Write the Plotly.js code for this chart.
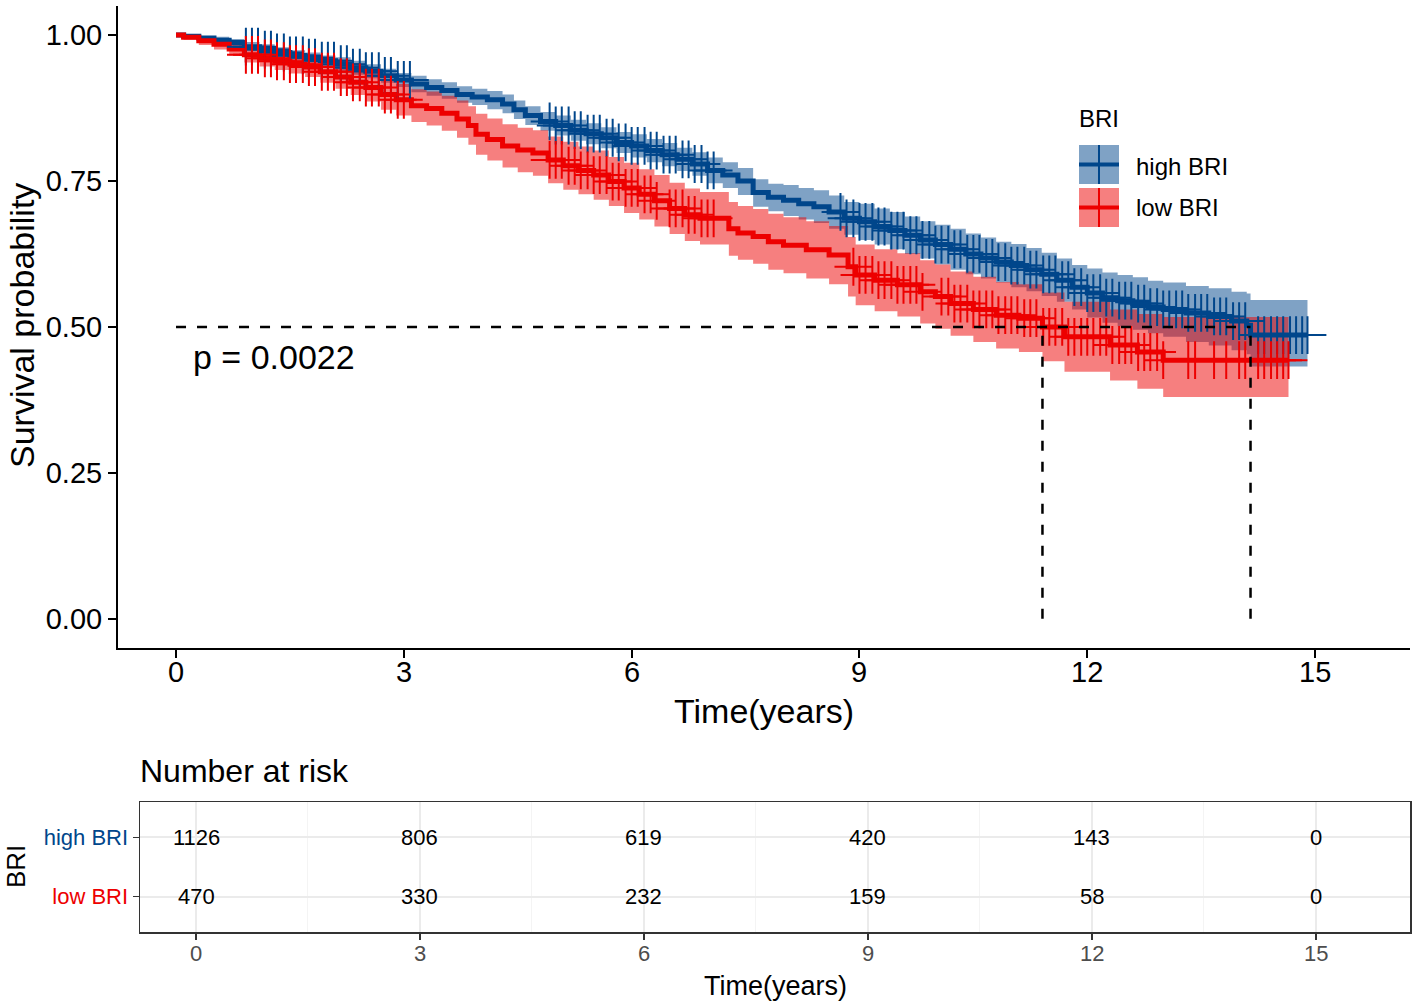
<!DOCTYPE html>
<html>
<head>
<meta charset="utf-8">
<script src="https://cdn.plot.ly/plotly-3.0.1.min.js"></script>
<style>html,body{margin:0;padding:0;background:#fff;}#chart{width:1418px;height:1007px;}</style>
</head>
<body>
<div id="chart"></div>
<script>
// ---------------- data ----------------
const groups = ['high BRI', 'low BRI'];
const groupColors = ['#00468B', '#ED0000'];
const bandColors = ['rgba(0,70,139,0.5)', 'rgba(237,0,0,0.5)'];

// high BRI Kaplan-Meier steps
const blueT = [0,0.1,0.3,0.5,0.7,0.9,1.1,1.3,1.5,1.7,1.9,2.1,2.3,2.5,2.7,2.9,3.1,3.3,3.5,3.7,3.9,4.1,4.3,4.45,4.6,4.8,5.0,5.2,5.4,5.6,5.8,6.0,6.2,6.4,6.6,6.8,7.0,7.2,7.4,7.6,7.8,8.0,8.2,8.4,8.6,8.8,9.0,9.2,9.4,9.6,9.8,10.0,10.2,10.4,10.6,10.8,11.0,11.2,11.4,11.6,11.8,12.0,12.2,12.4,12.6,12.8,13.0,13.3,13.6,13.9,14.1,14.15];
const blueS = [1,0.998,0.995,0.991,0.987,0.980,0.975,0.970,0.965,0.961,0.956,0.950,0.944,0.938,0.930,0.923,0.916,0.910,0.905,0.898,0.894,0.889,0.882,0.872,0.862,0.852,0.845,0.837,0.831,0.824,0.816,0.810,0.802,0.795,0.787,0.779,0.768,0.760,0.750,0.730,0.722,0.717,0.711,0.706,0.697,0.686,0.680,0.672,0.665,0.657,0.649,0.641,0.633,0.625,0.618,0.611,0.605,0.598,0.590,0.580,0.568,0.558,0.550,0.545,0.540,0.534,0.530,0.524,0.518,0.510,0.503,0.486];
const blueL = [1,0.996,0.992,0.985,0.981,0.972,0.966,0.961,0.956,0.952,0.947,0.938,0.932,0.926,0.918,0.911,0.902,0.896,0.891,0.884,0.880,0.873,0.866,0.856,0.846,0.836,0.828,0.819,0.813,0.806,0.798,0.790,0.782,0.775,0.767,0.759,0.746,0.738,0.726,0.706,0.698,0.690,0.684,0.678,0.668,0.658,0.649,0.641,0.633,0.625,0.617,0.607,0.598,0.590,0.583,0.576,0.568,0.561,0.553,0.543,0.530,0.516,0.507,0.501,0.495,0.489,0.483,0.474,0.468,0.460,0.453,0.432];
const blueU = [1,1,0.998,0.997,0.993,0.988,0.984,0.979,0.974,0.970,0.965,0.962,0.956,0.950,0.942,0.935,0.930,0.924,0.919,0.912,0.908,0.904,0.898,0.888,0.878,0.868,0.862,0.855,0.849,0.842,0.834,0.830,0.822,0.815,0.807,0.799,0.790,0.782,0.772,0.753,0.745,0.743,0.738,0.734,0.725,0.714,0.711,0.703,0.697,0.689,0.681,0.675,0.668,0.660,0.653,0.646,0.642,0.635,0.627,0.617,0.606,0.600,0.593,0.589,0.585,0.579,0.576,0.570,0.566,0.560,0.557,0.546];
const blueEnd = 14.9;
const blueCensor = [0.92,1.00,1.08,1.17,1.25,1.33,1.42,1.50,1.58,1.67,1.75,1.83,1.92,2.00,2.08,2.17,2.25,2.33,2.42,2.50,2.58,2.67,2.75,2.83,2.92,3.00,3.08,
  4.92,5.00,5.08,5.17,5.25,5.33,5.42,5.50,5.58,5.67,5.75,5.83,5.92,6.00,6.08,6.17,6.25,6.33,6.42,6.50,6.58,6.67,6.75,6.83,6.92,7.00,7.08,
  8.75,8.83,8.92,9.00,9.08,9.17,9.25,9.33,9.42,9.50,9.58,9.67,9.75,9.83,9.92,10.00,10.08,10.17,10.25,10.33,10.42,10.50,10.58,10.67,10.75,10.83,10.92,
  11.00,11.08,11.17,11.25,11.33,11.42,11.50,11.58,11.67,11.75,11.83,11.92,12.00,12.08,12.17,12.25,12.33,12.42,12.50,12.58,12.67,12.75,12.83,12.92,
  13.00,13.08,13.17,13.25,13.33,13.42,13.50,13.58,13.67,13.75,13.83,13.92,14.00,14.08,14.25,14.33,14.42,14.50,14.58,14.67,14.75,14.83,14.90];

// low BRI Kaplan-Meier steps
const redT = [0,0.1,0.3,0.5,0.7,0.9,1.1,1.3,1.5,1.7,1.9,2.1,2.3,2.5,2.7,2.9,3.1,3.3,3.5,3.7,3.85,3.95,4.1,4.3,4.5,4.7,4.9,5.1,5.3,5.5,5.7,5.9,6.1,6.3,6.5,6.7,6.9,7.28,7.4,7.6,7.8,8.0,8.3,8.6,8.85,8.95,9.2,9.5,9.8,10.0,10.2,10.5,10.8,11.1,11.41,11.7,12.3,12.66,13.0];
const redS = [1,0.996,0.990,0.984,0.976,0.966,0.960,0.955,0.950,0.945,0.937,0.928,0.919,0.910,0.898,0.889,0.879,0.874,0.866,0.856,0.845,0.830,0.821,0.810,0.803,0.798,0.786,0.776,0.768,0.760,0.749,0.738,0.727,0.716,0.703,0.692,0.686,0.668,0.661,0.655,0.646,0.640,0.632,0.623,0.603,0.589,0.580,0.572,0.560,0.552,0.540,0.530,0.520,0.515,0.500,0.483,0.469,0.457,0.443];
const redL = [1,0.992,0.983,0.975,0.965,0.953,0.946,0.940,0.934,0.928,0.918,0.908,0.897,0.886,0.872,0.862,0.851,0.845,0.836,0.824,0.812,0.795,0.785,0.773,0.765,0.759,0.746,0.735,0.727,0.718,0.707,0.695,0.684,0.672,0.659,0.647,0.641,0.622,0.615,0.608,0.598,0.592,0.583,0.573,0.552,0.537,0.527,0.518,0.506,0.497,0.485,0.474,0.463,0.457,0.441,0.423,0.408,0.394,0.380];
const redU = [1,1,0.997,0.993,0.987,0.979,0.974,0.970,0.966,0.962,0.956,0.948,0.941,0.934,0.924,0.916,0.907,0.903,0.896,0.888,0.878,0.865,0.857,0.847,0.841,0.837,0.826,0.817,0.809,0.802,0.791,0.781,0.770,0.760,0.747,0.737,0.731,0.714,0.707,0.702,0.694,0.688,0.681,0.673,0.654,0.641,0.633,0.626,0.614,0.607,0.595,0.586,0.577,0.573,0.559,0.543,0.530,0.522,0.517];
const redEnd = 14.65;
const redCensor = [0.92,1.00,1.08,1.17,1.25,1.33,1.42,1.50,1.58,1.67,1.75,1.83,1.92,2.00,2.08,2.17,2.25,2.33,2.42,2.50,2.58,2.67,2.75,2.83,2.92,3.00,
  4.92,5.00,5.08,5.17,5.25,5.33,5.42,5.50,5.58,5.67,5.75,5.83,5.92,6.00,6.08,6.17,6.25,6.33,6.50,6.58,6.67,6.75,6.83,6.92,7.00,7.08,
  8.92,9.00,9.08,9.17,9.25,9.33,9.42,9.50,9.58,9.67,9.75,9.83,10.08,10.17,10.25,10.33,10.42,10.50,10.58,10.67,10.75,10.83,10.92,
  11.00,11.08,11.17,11.25,11.33,11.42,11.50,11.58,11.67,11.75,11.83,11.92,12.00,12.08,12.17,12.25,12.33,12.42,12.50,12.58,12.67,12.75,12.83,12.92,
  13.00,13.33,13.42,13.67,13.83,14.00,14.08,14.25,14.33,14.42,14.50,14.58,14.65];

const medianTimes = [14.15, 11.41];
const medianLevel = 0.5;
const pText = 'p = 0.0022';

// number at risk table
const riskTimes = [0, 3, 6, 9, 12, 15];
const riskHigh = [1126, 806, 619, 420, 143, 0];
const riskLow = [470, 330, 232, 159, 58, 0];

const yTicks = [0, 0.25, 0.5, 0.75, 1];
const xTicks = [0, 3, 6, 9, 12, 15];

// ---------------- helpers ----------------
const FONT = 'Liberation Sans, Arial, Helvetica, sans-serif';
const W = 1418, H = 1007;
const px = v => v / W;
const py = v => 1 - v / H;

function stepAt(T, S, t) {
  let v = S[0];
  for (let i = 0; i < T.length; i++) { if (T[i] <= t) v = S[i]; else break; }
  return v;
}
function ext(arr, endVal) { return arr.concat([endVal]); }

const curves = [
  {T: blueT, S: blueS, L: blueL, U: blueU, end: blueEnd, cens: blueCensor},
  {T: redT, S: redS, L: redL, U: redU, end: redEnd, cens: redCensor}
];

const traces = [];
// confidence bands
curves.forEach((c, i) => {
  traces.push({x: ext(c.T, c.end), y: ext(c.L, c.L[c.L.length-1]), type: 'scatter', mode: 'lines',
    line: {shape: 'hv', width: 0, color: bandColors[i]}, hoverinfo: 'skip', showlegend: false, xaxis: 'x', yaxis: 'y'});
  traces.push({x: ext(c.T, c.end), y: ext(c.U, c.U[c.U.length-1]), type: 'scatter', mode: 'lines', fill: 'tonexty',
    fillcolor: bandColors[i], line: {shape: 'hv', width: 0, color: bandColors[i]}, hoverinfo: 'skip', showlegend: false, xaxis: 'x', yaxis: 'y'});
});
// survival step lines
curves.forEach((c, i) => {
  traces.push({x: ext(c.T, c.end), y: ext(c.S, c.S[c.S.length-1]), type: 'scatter', mode: 'lines',
    line: {shape: 'hv', width: 5, color: groupColors[i]}, hoverinfo: 'skip', showlegend: false, xaxis: 'x', yaxis: 'y'});
});
// censor marks
curves.forEach((c, i) => {
  traces.push({x: c.cens, y: c.cens.map(t => stepAt(c.T, c.S, t)), type: 'scatter', mode: 'markers',
    marker: {symbol: 'cross-thin-open', size: 27, color: groupColors[i], line: {width: 2, color: groupColors[i]}},
    hoverinfo: 'skip', showlegend: false, xaxis: 'x', yaxis: 'y'});
});

// median dashed lines
const shapes = [];
const dash = '10px,11px';
shapes.push({type: 'line', xref: 'x', yref: 'y', x0: 0, x1: Math.max(...medianTimes), y0: medianLevel, y1: medianLevel,
  line: {color: '#000', width: 2.5, dash: dash}, layer: 'above'});
medianTimes.forEach(m => shapes.push({type: 'line', xref: 'x', yref: 'y', x0: m, x1: m, y0: 0, y1: medianLevel,
  line: {color: '#000', width: 2.5, dash: dash}, layer: 'above'}));

// manual legend
const keyTops = [145, 188];
groups.forEach((g, i) => {
  const t = keyTops[i], b = t + 39;
  shapes.push({type: 'rect', xref: 'paper', yref: 'paper', x0: px(1079), x1: px(1119), y0: py(b), y1: py(t),
    fillcolor: bandColors[i], line: {width: 0}});
  shapes.push({type: 'line', xref: 'paper', yref: 'paper', x0: px(1079), x1: px(1119), y0: py((t+b)/2), y1: py((t+b)/2),
    line: {color: groupColors[i], width: 4}});
  shapes.push({type: 'line', xref: 'paper', yref: 'paper', x0: px(1099), x1: px(1099), y0: py(b), y1: py(t),
    line: {color: groupColors[i], width: 2}});
});

const annotations = [
  {text: 'BRI', xref: 'paper', yref: 'paper', x: px(1077), y: py(118), xanchor: 'left', yanchor: 'middle', showarrow: false,
    font: {family: FONT, size: 24, color: '#000'}},
  {text: groups[0], xref: 'paper', yref: 'paper', x: px(1134), y: py(166), xanchor: 'left', yanchor: 'middle', showarrow: false,
    font: {family: FONT, size: 24, color: '#000'}},
  {text: groups[1], xref: 'paper', yref: 'paper', x: px(1134), y: py(208), xanchor: 'left', yanchor: 'middle', showarrow: false,
    font: {family: FONT, size: 24, color: '#000'}},
  {text: pText, xref: 'x', yref: 'y', x: 0.2, y: 0.449, xanchor: 'left', yanchor: 'middle', showarrow: false,
    font: {family: FONT, size: 34, color: '#000'}},
  {text: 'Survival probability', xref: 'paper', yref: 'paper', x: px(22), y: py(326), xanchor: 'center', yanchor: 'middle',
    textangle: -90, showarrow: false, font: {family: FONT, size: 34, color: '#000'}},
  {text: 'Time(years)', xref: 'paper', yref: 'paper', x: px(764), y: py(711), xanchor: 'center', yanchor: 'middle',
    showarrow: false, font: {family: FONT, size: 34, color: '#000'}},
  {text: 'Number at risk', xref: 'paper', yref: 'paper', x: px(138), y: py(771), xanchor: 'left', yanchor: 'middle',
    showarrow: false, font: {family: FONT, size: 32, color: '#000'}},
  {text: 'BRI', xref: 'paper', yref: 'paper', x: px(16), y: py(867), xanchor: 'center', yanchor: 'middle',
    textangle: -90, showarrow: false, font: {family: FONT, size: 26, color: '#000'}},
  {text: 'Time(years)', xref: 'paper', yref: 'paper', x: px(775), y: py(986), xanchor: 'center', yanchor: 'middle',
    showarrow: false, font: {family: FONT, size: 27, color: '#000'}}
];
// x tick labels (main and risk table)
xTicks.forEach(v => {
  annotations.push({text: String(v), xref: 'x', yref: 'paper', x: v, y: py(672), xanchor: 'center', yanchor: 'middle',
    showarrow: false, font: {family: FONT, size: 29, color: '#000'}});
  annotations.push({text: String(v), xref: 'x2', yref: 'paper', x: v, y: py(953), xanchor: 'center', yanchor: 'middle',
    showarrow: false, font: {family: FONT, size: 22, color: '#4d4d4d'}});
});
// number at risk values
const riskSets = [riskHigh, riskLow];
groups.forEach((g, i) => {
  riskTimes.forEach((t, j) => {
    annotations.push({text: String(riskSets[i][j]), xref: 'x2', yref: 'y2', x: t, y: g, xanchor: 'center', yanchor: 'middle',
      showarrow: false, font: {family: FONT, size: 22, color: '#000'}});
  });
});

const layout = {
  width: W, height: H,
  margin: {l: 0, r: 0, t: 0, b: 0, pad: 0},
  paper_bgcolor: '#fff', plot_bgcolor: 'rgba(0,0,0,0)',
  showlegend: false,
  font: {family: FONT, color: '#000'},
  xaxis: {domain: [px(118), px(1410)], range: [-0.764, 16.25], anchor: 'y',
    tickmode: 'array', tickvals: xTicks, showticklabels: false,
    showline: true, linecolor: '#000', linewidth: 2, ticks: 'outside', ticklen: 8, tickwidth: 2, tickcolor: '#000',
    showgrid: false, zeroline: false, automargin: false},
  yaxis: {domain: [py(648), py(5.8)], range: [-0.05, 1.05], anchor: 'x',
    tickmode: 'array', tickvals: yTicks, ticktext: yTicks.map(v => v.toFixed(2)),
    showline: true, linecolor: '#000', linewidth: 2, ticks: 'outside', ticklen: 8, tickwidth: 2, tickcolor: '#000',
    tickfont: {family: FONT, size: 29, color: '#000'}, showgrid: false, zeroline: false, automargin: false},
  xaxis2: {domain: [px(140), px(1410)], range: [-0.75, 16.26], anchor: 'y2',
    tickmode: 'linear', tick0: 0, dtick: 3, showticklabels: false,
    showline: true, mirror: true, linecolor: '#333333', linewidth: 1.5,
    ticks: 'outside', ticklen: 6, tickwidth: 1.5, tickcolor: '#333333',
    showgrid: true, gridcolor: '#ebebeb', gridwidth: 2,
    minor: {dtick: 1.5, showgrid: true, gridcolor: '#f4f4f4', gridwidth: 1, ticks: ''},
    zeroline: false, automargin: false},
  yaxis2: {domain: [py(932), py(802)], type: 'category', categoryorder: 'array', categoryarray: [groups[1], groups[0]],
    range: [-0.6, 1.6], anchor: 'x2',
    tickmode: 'array', tickvals: groups,
    ticktext: groups.map((g, i) => '<span style="color:' + groupColors[i] + '">' + g + '</span>'),
    showline: true, mirror: true, linecolor: '#333333', linewidth: 1.5,
    ticks: 'outside', ticklen: 6, tickwidth: 1.5, tickcolor: '#333333',
    tickfont: {family: FONT, size: 22},
    showgrid: true, gridcolor: '#ebebeb', gridwidth: 2, zeroline: false, automargin: false},
  shapes: shapes,
  annotations: annotations
};

Plotly.newPlot('chart', traces, layout, {staticPlot: true, displayModeBar: false});
</script>
</body>
</html>
